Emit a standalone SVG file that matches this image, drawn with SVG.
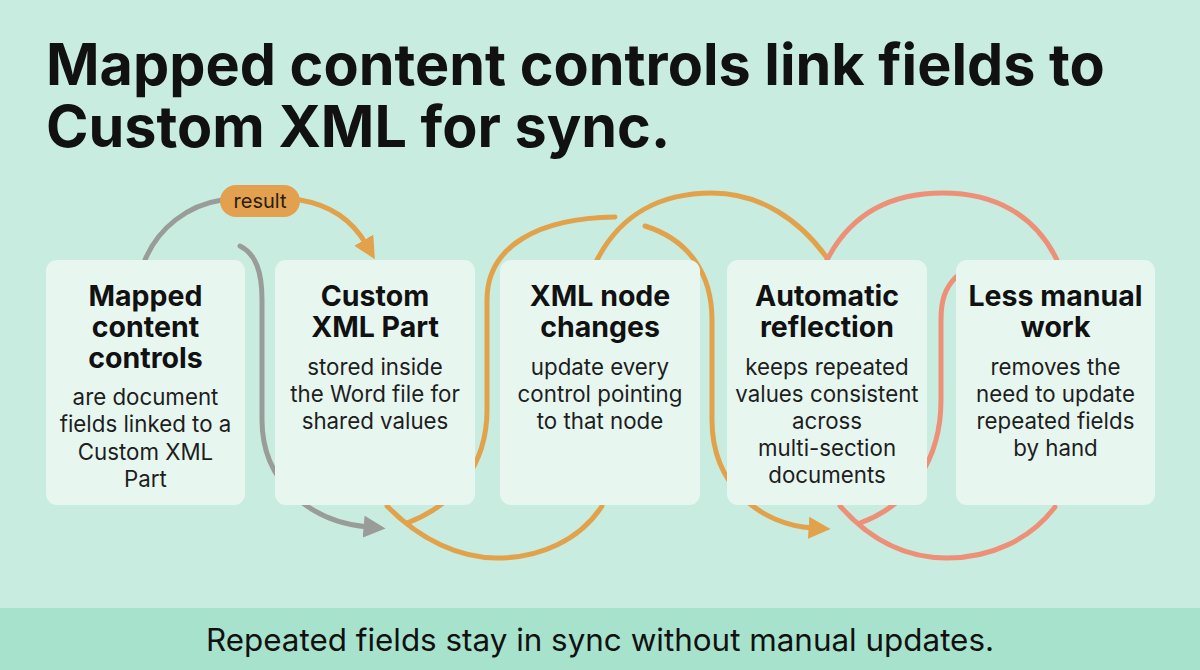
<svg xmlns="http://www.w3.org/2000/svg" width="1200" height="670" viewBox="0 0 1200 670">
<defs>
<style>
.title{font-family:Inter,"Liberation Sans",sans-serif;font-weight:700;font-size:57.5px;fill:#111}
.ct{font-family:Inter,"Liberation Sans",sans-serif;font-weight:700;font-size:28.5px;fill:#111;text-anchor:middle}
.cd{font-family:Inter,"Liberation Sans",sans-serif;font-weight:400;font-size:22.3px;fill:#1e1e1e;text-anchor:middle}
.card{fill:#e7f7f0}
.c{fill:none;stroke-width:5;stroke-linecap:round}
.gray{stroke:#9a9c99}
.orange{stroke:#e2a24b}
.salmon{stroke:#ee8f78}
</style>
<marker id="ag" viewBox="0 0 10 10" refX="2" refY="5" markerWidth="4.4" markerHeight="4.4" orient="auto" markerUnits="strokeWidth"><path d="M0,0 L10,5 L0,10 z" fill="#9a9c99"/></marker>
<marker id="ao" viewBox="0 0 10 10" refX="2" refY="5" markerWidth="4.4" markerHeight="4.4" orient="auto" markerUnits="strokeWidth"><path d="M0,0 L10,5 L0,10 z" fill="#e2a24b"/></marker>
</defs>
<rect width="1200" height="670" fill="#c8ede0"/>
<rect y="608" width="1200" height="62" fill="#a7e2cc"/>
<text class="title" x="46" y="85">Mapped content controls link fields to</text>
<text class="title" x="46" y="147">Custom XML for sync.</text>

<g id="connectors">
<path class="c gray" d="M145,260 C158,228 188,205 222,200"/>
<path class="c orange" d="M300,200 C330,205 352,220 366,244" marker-end="url(#ao)"/>
<path class="c gray" d="M240,246 C256,254 262,272 262,300 L262,420 C262,482 310,522 368,527" marker-end="url(#ag)"/>
<path class="c orange" d="M387,506 C420,540 460,558 497,558 C540,558 580,540 602,506"/>
<path class="c orange" d="M407,523 C455,505 487,465 487,410 L487,300 C487,245 540,218 615,217"/>
<path class="c orange" d="M645,226 C690,240 712,275 712,320 L712,420 C712,485 760,525 813,528" marker-end="url(#ao)"/>
<path class="c orange" d="M597,260 C620,215 660,193 712,193 C760,193 800,220 827,258"/>
<path class="c salmon" d="M827,260 C850,215 890,193 943,193 C995,193 1035,215 1057,260"/>
<path class="c salmon" d="M956,277 C945,288 941,300 941,320 L941,400 C941,460 910,505 860,523"/>
<path class="c salmon" d="M840,506 C870,540 905,558 947,558 C990,558 1030,540 1055,507"/>
<g id="label-result">
<rect x="220" y="185" width="80" height="32" rx="16" fill="#e3a04f"/>
<text x="260" y="208" text-anchor="middle" font-family="Inter,'Liberation Sans',sans-serif" font-size="20" fill="#2a1d0c">result</text>
</g>
</g>

<g id="node1">
<rect class="card" x="46" y="260" width="199" height="245" rx="11"/>
<text class="ct" x="145.5" y="306">Mapped</text>
<text class="ct" x="145.5" y="337">content</text>
<text class="ct" x="145.5" y="368">controls</text>
<text class="cd" x="145.5" y="405">are document</text>
<text class="cd" x="145.5" y="432">fields linked to a</text>
<text class="cd" x="145.5" y="460">Custom XML</text>
<text class="cd" x="145.5" y="487">Part</text>
</g>
<g id="node2">
<rect class="card" x="275" y="260" width="200" height="245" rx="11"/>
<text class="ct" x="375" y="306">Custom</text>
<text class="ct" x="375" y="337">XML Part</text>
<text class="cd" x="375" y="375">stored inside</text>
<text class="cd" x="375" y="402">the Word file for</text>
<text class="cd" x="375" y="429">shared values</text>
</g>
<g id="node3">
<rect class="card" x="500" y="260" width="200" height="245" rx="11"/>
<text class="ct" x="600" y="306">XML node</text>
<text class="ct" x="600" y="337">changes</text>
<text class="cd" x="600" y="375">update every</text>
<text class="cd" x="600" y="402">control pointing</text>
<text class="cd" x="600" y="429">to that node</text>
</g>
<g id="node4">
<rect class="card" x="727" y="260" width="200" height="245" rx="11"/>
<text class="ct" x="827" y="306">Automatic</text>
<text class="ct" x="827" y="337">reflection</text>
<text class="cd" x="827" y="375">keeps repeated</text>
<text class="cd" x="827" y="402">values consistent</text>
<text class="cd" x="827" y="429">across</text>
<text class="cd" x="827" y="456">multi-section</text>
<text class="cd" x="827" y="483">documents</text>
</g>
<g id="node5">
<rect class="card" x="956" y="260" width="199" height="245" rx="11"/>
<text class="ct" x="1055.5" y="306">Less manual</text>
<text class="ct" x="1055.5" y="337">work</text>
<text class="cd" x="1055.5" y="375">removes the</text>
<text class="cd" x="1055.5" y="402">need to update</text>
<text class="cd" x="1055.5" y="429">repeated fields</text>
<text class="cd" x="1055.5" y="456">by hand</text>
</g>
<text x="600" y="651" text-anchor="middle" font-family="Inter,'Liberation Sans',sans-serif" font-size="31.4" fill="#111">Repeated fields stay in sync without manual updates.</text>
</svg>
